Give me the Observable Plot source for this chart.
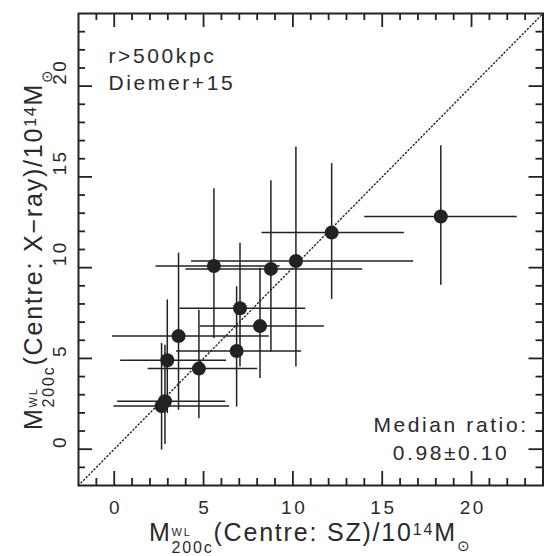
<!DOCTYPE html>
<html><head><meta charset="utf-8">
<script src="https://cdn.jsdelivr.net/npm/d3@7"></script>
<script src="https://cdn.jsdelivr.net/npm/@observablehq/plot@0.6"></script>
<style>body{margin:0;background:#fff}#chart{width:544px;height:556px}</style>
</head><body><div id="chart"></div>
<script>
// Cluster masses (10^14 Msun): SZ-centred (x) vs X-ray-centred (y)
const xSZ      = [18.28, 12.17, 10.17, 8.77, 5.58, 7.04, 8.16, 6.85, 4.74, 3.60, 2.97, 2.84, 2.65];
const xSZLow   = [14.02,  8.27,  4.33, 4.01, 2.34, 3.68, 4.81, 3.49, 1.90, -0.09, 0.36, 0.19, -0.02];
const xSZHigh  = [22.56, 16.24, 16.76, 13.91, 9.28, 10.72, 11.76, 10.49, 8.03, 8.68, 6.29, 6.24, 6.46];
const yXray    = [12.82, 11.93, 10.37, 9.93, 10.09, 7.76, 6.78, 5.41, 4.44, 6.23, 4.90, 2.64, 2.38];
const yXrayLow = [ 9.03,  8.25,  4.53, 5.36, 6.10, 4.53, 3.89, 2.32, 1.68, 2.14, 1.96, 0.26, -0.05];
const yXrayHigh= [16.72, 15.73, 16.65, 14.79, 14.35, 11.35, 9.97, 8.95, 7.66, 10.80, 8.22, 5.73, 5.82];

const axisDomain = [-2, 24];
const oneToOne = [-2, 24];
const majorTicks = [0, 5, 10, 15, 20];
const minorTicks = [-1, 1, 2, 3, 4, 6, 7, 8, 9, 11, 12, 13, 14, 16, 17, 18, 19, 21, 22, 23];
const annotationTop = "r>500kpc\nDiemer+15";
const annotationBottom = "Median ratio:\n0.98±0.10";

const data = xSZ.map((x, i) => ({x, xlo: xSZLow[i], xhi: xSZHigh[i], y: yXray[i], ylo: yXrayLow[i], yhi: yXrayHigh[i]}));

const W = 544, H = 556, mL = 78, mR = 1.5, mT = 13, mB = 71;
const innerW = W - mL - mR, innerH = H - mT - mB;
const INK = "#222";
const TXT = "#2a2a2a";
const FONT = "'Liberation Sans', Arial, sans-serif";
const MAJ = 14, MIN = 7;

const plot = Plot.plot({
  width: W, height: H,
  marginLeft: mL, marginRight: mR, marginTop: mT, marginBottom: mB,
  x: {domain: axisDomain, axis: null},
  y: {domain: axisDomain, axis: null},
  style: {fontFamily: FONT, background: "#fff", color: INK, letterSpacing: "2.6px"},
  marks: [
    Plot.line(oneToOne, {x: d => d, y: d => d, stroke: "#222", strokeWidth: 1.4, strokeDasharray: "1.1 2.6"}),
    Plot.ruleY(data, {y: "y", x1: "xlo", x2: "xhi", stroke: INK, strokeWidth: 1.5}),
    Plot.ruleX(data, {x: "x", y1: "ylo", y2: "yhi", stroke: INK, strokeWidth: 1.5}),
    Plot.dot(data, {x: "x", y: "y", r: 7, fill: INK}),
    // ticks, inward on all four sides
    Plot.tickX(majorTicks, {x: d => d, insetTop: innerH - MAJ, stroke: INK, strokeWidth: 1.8}),
    Plot.tickX(minorTicks, {x: d => d, insetTop: innerH - MIN, stroke: INK, strokeWidth: 1.8}),
    Plot.tickX(majorTicks, {x: d => d, insetBottom: innerH - MAJ, stroke: INK, strokeWidth: 1.8}),
    Plot.tickX(minorTicks, {x: d => d, insetBottom: innerH - MIN, stroke: INK, strokeWidth: 1.8}),
    Plot.tickY(majorTicks, {y: d => d, insetRight: innerW - MAJ, stroke: INK, strokeWidth: 1.8}),
    Plot.tickY(minorTicks, {y: d => d, insetRight: innerW - MIN, stroke: INK, strokeWidth: 1.8}),
    Plot.tickY(majorTicks, {y: d => d, insetLeft: innerW - MAJ, stroke: INK, strokeWidth: 1.8}),
    Plot.tickY(minorTicks, {y: d => d, insetLeft: innerW - MIN, stroke: INK, strokeWidth: 1.8}),
    Plot.frame({stroke: INK, strokeWidth: 2}),
    // tick labels
    Plot.text(majorTicks, {x: d => d, text: d => String(d), frameAnchor: "bottom", dx: 1.3, dy: 22, fontSize: 19, fill: TXT, lineAnchor: "middle"}),
    Plot.text(majorTicks, {y: d => d, text: d => String(d), frameAnchor: "left", dx: -19, dy: -1.3, rotate: -90, fontSize: 19, fill: TXT, lineAnchor: "middle"}),
    // annotations
    Plot.text([annotationTop], {text: d => d, frameAnchor: "top-left", dx: 30, dy: 30, textAnchor: "start", lineAnchor: "top", fontSize: 21, lineHeight: 1.3, fill: TXT}),
    Plot.text([annotationBottom], {text: d => d, frameAnchor: "bottom-right", dx: -92, dy: -26, textAnchor: "middle", lineAnchor: "bottom", fontSize: 21, lineHeight: 1.33, fill: TXT})
  ]
});
document.getElementById("chart").append(plot);

// Axis titles with sub/superscripts
const xLabel = [
  {t: "M", size: 25},
  {stack: [{t: "WL", size: 11, dy: -5}, {t: "200c", size: 16, dy: 12}]},
  {t: "(Centre: SZ)/10", size: 25},
  {t: "14", size: 16, dy: -6},
  {t: "M", size: 25},
  {t: "⊙", size: 15, dy: 10}
];
const yLabel = [
  {t: "M", size: 25},
  {stack: [{t: "WL", size: 11, dy: -5}, {t: "200c", size: 16, dy: 12}]},
  {t: "(Centre: X\u2212ray)/10", size: 25},
  {t: "14", size: 16, dy: -6},
  {t: "M", size: 25},
  {t: "⊙", size: 15, dy: 10}
];
function richLabel(pieces, transform) {
  const g = d3.select(plot).append("g").attr("transform", transform)
    .attr("fill", TXT).attr("text-anchor", "start")
    .style("font-family", FONT).style("letter-spacing", "1.8px");
  let x = 0;
  const add = (s) => {
    const t = g.append("text").attr("text-anchor", "start").attr("x", x).attr("y", s.dy || 0)
      .attr("font-size", s.size).text(s.t);
    return t.node().getComputedTextLength();
  };
  for (const p of pieces) {
    if (p.stack) {
      let w = 0;
      for (const s of p.stack) w = Math.max(w, add(s));
      x += w;
    } else x += add(p);
  }
  const total = x;
  g.selectAll("text").attr("x", function () { return +this.getAttribute("x") - total / 2; });
}
const sx = plot.scale("x"), sy = plot.scale("y");
const cx = (sx.range[0] + sx.range[1]) / 2, cy = (sy.range[0] + sy.range[1]) / 2;
richLabel(xLabel, `translate(${cx},541)`);
richLabel(yLabel, `translate(42,${cy}) rotate(-90)`);
</script>
</body></html>
